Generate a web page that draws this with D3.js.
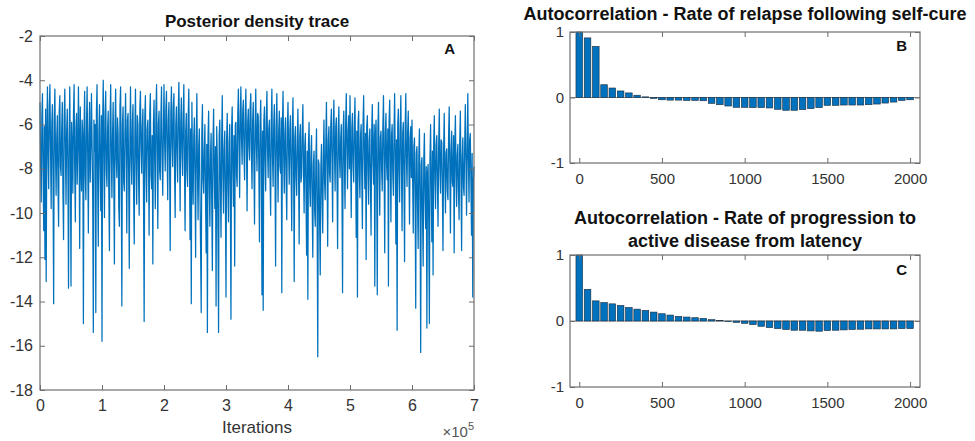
<!DOCTYPE html>
<html><head><meta charset="utf-8">
<script src="https://cdn.jsdelivr.net/npm/d3@7"></script>
<style>body{margin:0;background:#fff} text{font-family:"Liberation Sans",Arial,Helvetica,sans-serif}</style>
</head><body><svg id="c" width="975" height="441"></svg>
<script>
// ---------- DATA ----------
// Posterior density trace, one value every 1000 iterations
const traceStep = 1000;
const traceValues = [
// 0 - 1e5
-5.0,-7.8,-9.5,-5.6,-4.6,-8.2,-10.8,-6.1,-12.1,-5.3,
-13.1,-6.4,-4.3,-7.5,-8.9,-5.2,-4.2,-7.1,-9.8,-6.0,
-5.1,-8.4,-14.1,-5.8,-4.4,-7.3,-9.2,-6.6,-5.6,-8.8,
-10.6,-5.4,-4.7,-7.9,-8.3,-6.2,-5.0,-9.1,-11.2,-5.7,
-4.4,-7.0,-9.6,-6.3,-5.3,-8.1,-13.4,-6.8,-4.3,-7.4,
-13.3,-5.9,-6.9,-9.1,-5.5,-4.2,-8.0,-10.4,-6.1,-5.5,
-8.7,-7.2,-4.3,-6.7,-11.6,-5.2,-7.7,-9.0,-5.8,-6.5,
-15.0,-6.2,-4.5,-8.3,-9.4,-5.9,-4.3,-7.6,-10.9,-6.4,
-5.0,-8.6,-7.0,-4.6,-6.8,-9.3,-15.4,-5.8,-7.2,-6.0,
-14.5,-5.4,-4.2,-8.5,-11.5,-6.3,-5.1,-7.9,-9.9,-5.6,
// 1e5 - 2e5
-15.8,-6.0,-4.0,-7.4,-10.2,-5.5,-4.5,-8.1,-8.8,-6.2,
-5.4,-9.0,-11.7,-5.9,-4.2,-7.3,-9.3,-6.5,-5.0,-8.4,
-12.3,-6.1,-4.4,-7.6,-8.4,-5.7,-6.4,-9.7,-10.6,-5.2,
-4.3,-7.8,-14.2,-6.0,-5.2,-8.6,-9.0,-6.3,-4.6,-7.1,
-10.9,-5.8,-5.5,-8.2,-12.5,-6.6,-4.3,-7.5,-8.7,-5.9,
-5.1,-9.2,-11.4,-6.4,-4.4,-7.7,-9.6,-5.6,-6.0,-8.5,
-10.1,-5.3,-4.5,-7.0,-8.2,-6.1,-5.3,-9.4,-14.9,-5.7,
-4.7,-8.0,-9.5,-6.2,-5.8,-7.4,-11.0,-5.5,-4.6,-8.3,
-8.9,-6.5,-12.3,-5.9,-4.9,-7.6,-9.8,-5.4,-4.2,-7.2,
-10.7,-6.0,-5.4,-8.1,-8.5,-5.6,-4.3,-7.7,-9.2,-6.3,
// 2e5 - 3e5
-4.2,-6.8,-8.1,-5.3,-4.5,-7.2,-9.4,-5.8,-5.0,-7.6,
-11.7,-5.5,-4.3,-6.9,-7.9,-5.2,-4.6,-8.0,-10.2,-6.0,
-5.2,-7.4,-8.6,-5.4,-4.1,-6.7,-9.9,-5.9,-4.8,-7.3,
-8.3,-5.6,-4.2,-7.8,-10.8,-6.3,-5.5,-8.1,-8.8,-5.7,
-4.4,-7.5,-11.2,-6.2,-14.1,-5.0,-7.9,-9.6,-6.6,-5.7,
-8.4,-12.0,-6.8,-4.6,-8.2,-10.3,-7.0,-6.2,-9.0,-11.5,
-14.5,-6.4,-5.1,-8.5,-9.1,-7.2,-6.0,-9.4,-11.8,-6.9,
-15.4,-6.6,-5.4,-8.7,-10.6,-7.4,-6.4,-9.5,-12.6,-6.8,
-5.3,-8.1,-9.8,-7.0,-14.2,-6.1,-7.6,-10.9,-15.4,-6.5,
-5.8,-8.8,-11.1,-6.7,-4.7,-8.4,-10.0,-7.1,-6.3,-9.2,
// 3e5 - 4e5
-13.8,-6.7,-5.5,-8.9,-10.4,-6.8,-6.0,-9.3,-14.8,-6.2,
-5.2,-8.0,-9.7,-6.5,-12.4,-6.0,-5.9,-8.3,-8.8,-5.5,
-4.4,-6.9,-9.3,-5.6,-4.3,-6.6,-7.8,-5.4,-4.9,-7.3,
-8.5,-5.7,-4.4,-6.8,-9.9,-5.9,-5.3,-7.0,-7.6,-5.2,
-4.6,-7.2,-8.9,-5.8,-5.0,-7.7,-10.5,-6.1,-4.4,-6.9,
-8.1,-5.5,-5.6,-8.0,-11.3,-6.0,-4.9,-7.4,-13.7,-6.3,
-14.4,-5.9,-5.2,-7.6,-9.0,-5.8,-4.5,-7.1,-8.4,-6.2,
-5.8,-8.3,-10.1,-5.9,-4.4,-7.5,-8.8,-6.0,-5.1,-7.8,
-12.4,-6.1,-4.6,-7.4,-9.5,-6.3,-5.4,-7.9,-8.2,-5.7,
-13.6,-6.0,-4.5,-7.3,-9.1,-6.4,-5.7,-8.6,-10.3,-6.1,
// 4e5 - 5e5
-5.0,-7.3,-8.7,-6.2,-5.6,-8.1,-10.8,-6.4,-4.8,-7.6,
-13.1,-6.6,-6.1,-8.4,-9.2,-6.8,-5.3,-8.0,-11.4,-6.5,
-6.0,-8.6,-8.3,-6.3,-5.1,-7.9,-10.0,-7.0,-6.4,-9.1,
-11.9,-7.2,-13.9,-6.9,-5.9,-8.8,-9.7,-7.3,-6.5,-9.6,
-12.0,-7.8,-7.2,-9.9,-10.6,-7.5,-6.2,-10.2,-16.5,-7.6,
-7.8,-10.4,-12.8,-8.0,-6.9,-9.3,-10.9,-7.4,-5.8,-8.6,
-9.4,-6.8,-5.0,-7.9,-11.5,-6.7,-6.1,-8.2,-8.6,-6.0,
-5.3,-7.7,-10.4,-6.3,-4.9,-7.2,-9.0,-6.1,-5.7,-8.3,
-11.6,-6.4,-5.2,-7.5,-8.4,-6.6,-6.0,-8.9,-13.6,-6.2,
-5.4,-7.8,-9.8,-6.0,-4.6,-7.1,-8.9,-6.3,-5.6,-8.0,
// 5e5 - 6e5
-4.7,-7.4,-10.2,-6.1,-5.5,-7.8,-8.6,-6.2,-4.8,-7.5,
-11.1,-6.3,-13.8,-5.9,-5.4,-8.2,-9.3,-6.5,-6.0,-8.4,
-10.7,-6.0,-4.7,-7.3,-8.9,-6.4,-12.1,-6.1,-5.6,-8.1,
-9.6,-6.7,-6.2,-8.7,-11.0,-6.3,-5.1,-7.6,-8.7,-6.0,
-13.3,-6.5,-5.8,-8.3,-13.7,-6.2,-5.0,-7.9,-10.1,-6.6,
-6.3,-8.0,-9.0,-6.1,-4.7,-7.7,-11.8,-6.4,-5.5,-7.8,
-8.5,-6.2,-13.3,-5.9,-4.9,-7.4,-10.4,-6.5,-6.0,-8.2,
-9.2,-6.3,-4.6,-7.6,-11.4,-6.7,-15.3,-6.0,-5.3,-8.1,
-9.5,-6.2,-4.7,-7.8,-10.8,-6.4,-5.9,-8.3,-12.2,-6.1,
-4.6,-7.5,-8.8,-6.3,-5.4,-7.9,-10.5,-6.6,-6.1,-8.4,
// 6e5 - 7e5
-5.8,-8.4,-10.9,-7.0,-6.6,-9.2,-14.3,-7.3,-7.0,-9.8,
-11.6,-7.4,-6.2,-9.5,-16.3,-7.8,-7.5,-10.1,-12.4,-7.6,
-6.4,-9.3,-10.7,-7.9,-15.2,-8.2,-7.8,-10.4,-15.0,-7.5,
-6.0,-8.9,-11.3,-7.2,-12.8,-6.8,-5.6,-8.5,-9.8,-6.9,
-6.5,-8.7,-10.6,-7.0,-5.3,-8.0,-9.1,-6.7,-6.8,-8.9,
-11.7,-7.1,-5.5,-8.2,-10.0,-7.3,-7.1,-9.0,-9.4,-6.6,
-5.2,-7.9,-10.9,-7.2,-6.3,-8.6,-8.8,-6.5,-11.8,-7.0,
-5.6,-8.1,-9.7,-7.4,-6.9,-9.1,-10.3,-6.8,-5.4,-8.3,
-11.7,-7.5,-6.6,-8.8,-9.2,-6.9,-5.1,-7.7,-10.1,-7.2,
-4.6,-7.6,-9.5,-6.7,-6.4,-8.5,-11.0,-7.3,-13.8,-8.6,
-7.9
];
const xTicksA = [0,1,2,3,4,5,6,7];          // x 10^5
const yTicksA = [-18,-16,-14,-12,-10,-8,-6,-4,-2];

const lags = [0,50,100,150,200,250,300,350,400,450,500,550,600,650,700,750,800,850,900,950,1000,
  1050,1100,1150,1200,1250,1300,1350,1400,1450,1500,1550,1600,1650,1700,1750,1800,1850,1900,1950,2000];
const acfB = [1.0,0.91,0.78,0.195,0.145,0.10,0.07,0.035,0.01,-0.015,-0.035,-0.04,-0.04,-0.045,-0.045,-0.05,
  -0.09,-0.11,-0.13,-0.15,-0.15,-0.155,-0.155,-0.16,-0.18,-0.195,-0.195,-0.185,-0.17,-0.155,-0.12,-0.12,
  -0.115,-0.115,-0.115,-0.11,-0.10,-0.085,-0.07,-0.045,-0.035];
const acfC = [1.0,0.48,0.305,0.28,0.26,0.235,0.205,0.18,0.16,0.135,0.11,0.09,0.07,0.06,0.05,0.04,0.02,0.005,
  -0.008,-0.02,-0.035,-0.055,-0.08,-0.10,-0.115,-0.13,-0.14,-0.14,-0.15,-0.155,-0.145,-0.14,-0.135,-0.13,
  -0.125,-0.12,-0.12,-0.12,-0.12,-0.115,-0.115];
const xTicksBC = [0,500,1000,1500,2000];
const yTicksBC = [-1,0,1];

// ---------- DRAW ----------
const svg = d3.select("#c");
const AX = "#6e6e6e", TXT = "#333", BLUE = "#0072BD";

function frame(g, x0, y0, x1, y1) {
  g.append("rect").attr("x", x0).attr("y", y0).attr("width", x1 - x0).attr("height", y1 - y0)
    .attr("fill", "none").attr("stroke", AX).attr("stroke-width", 1.2);
}
function styleAxis(sel, fs) {
  sel.select(".domain").remove();
  sel.selectAll(".tick line").attr("stroke", AX).attr("stroke-width", 1);
  sel.selectAll(".tick text").attr("fill", TXT).attr("font-size", fs)
     .attr("font-family", '"Liberation Sans",Arial,sans-serif');
}

// Panel A
{
  const L = 40, R = 474, T = 36, B = 390;
  const x = d3.scaleLinear().domain([0, 700000]).range([L, R]);
  const y = d3.scaleLinear().domain([-18, -2]).range([B, T]);
  const g = svg.append("g");
  const line = d3.line().x((d, i) => x(i * traceStep)).y(d => y(d));
  g.append("path").datum(traceValues).attr("d", line).attr("fill", "none")
    .attr("stroke", BLUE).attr("stroke-width", 1.25).attr("stroke-linejoin", "round");
  frame(g, L, T, R, B);
  const ax = g.append("g").attr("transform", `translate(0,${B})`)
    .call(d3.axisBottom(x).tickValues(xTicksA.map(v => v * 1e5)).tickFormat(d => String(d / 1e5)).tickSize(-5).tickPadding(10));
  styleAxis(ax, 16);
  const axT = g.append("g").attr("transform", `translate(0,${T})`)
    .call(d3.axisTop(x).tickValues(xTicksA.map(v => v * 1e5)).tickFormat("").tickSize(-5));
  styleAxis(axT, 16);
  const ay = g.append("g").attr("transform", `translate(${L},0)`)
    .call(d3.axisLeft(y).tickValues(yTicksA).tickFormat(d => String(d)).tickSize(-5).tickPadding(7));
  styleAxis(ay, 16);
  const ayR = g.append("g").attr("transform", `translate(${R},0)`)
    .call(d3.axisRight(y).tickValues(yTicksA).tickFormat("").tickSize(-5));
  styleAxis(ayR, 16);
  g.append("text").attr("x", (L + R) / 2).attr("y", 27).attr("text-anchor", "middle")
    .attr("font-size", 17).attr("font-weight", "bold").attr("fill", "#111").text("Posterior density trace");
  g.append("text").attr("x", 455).attr("y", 54).attr("text-anchor", "end")
    .attr("font-size", 15).attr("font-weight", "bold").attr("fill", "#111").text("A");
  g.append("text").attr("x", (L + R) / 2).attr("y", 433).attr("text-anchor", "middle")
    .attr("font-size", 17).attr("fill", TXT).text("Iterations");
  const ex = g.append("text").attr("x", 474).attr("y", 437).attr("text-anchor", "end").attr("fill", "#555").attr("font-size", 15);
  ex.append("tspan").text("\u00d710");
  ex.append("tspan").attr("dy", -7).attr("font-size", 11).text("5");
}

// ACF panels
function acfPanel(T, B, vals, titleLines, titleY, letter, letterY) {
  const L = 570, R = 920;
  const x = d3.scaleLinear().domain([-56, 2060]).range([L, R]);
  const y = d3.scaleLinear().domain([-1, 1]).range([B, T]);
  const g = svg.append("g");
  const bw = x(40) - x(0);
  g.append("line").attr("x1", L).attr("x2", R).attr("y1", y(0)).attr("y2", y(0))
    .attr("stroke", "#8a8a8a").attr("stroke-width", 1);
  g.selectAll("rect.bar").data(lags).join("rect").attr("class", "bar")
    .attr("x", d => x(d) - bw / 2).attr("width", bw)
    .attr("y", (d, i) => Math.min(y(vals[i]), y(0)))
    .attr("height", (d, i) => Math.abs(y(vals[i]) - y(0)))
    .attr("fill", BLUE).attr("stroke", "#1b2a3a").attr("stroke-width", 0.6);
  frame(g, L, T, R, B);
  const ax = g.append("g").attr("transform", `translate(0,${B})`)
    .call(d3.axisBottom(x).tickValues(xTicksBC).tickFormat(d => String(d)).tickSize(-5).tickPadding(10));
  styleAxis(ax, 15);
  const axT = g.append("g").attr("transform", `translate(0,${T})`)
    .call(d3.axisTop(x).tickValues(xTicksBC).tickFormat("").tickSize(-5));
  styleAxis(axT, 15);
  const ay = g.append("g").attr("transform", `translate(${L},0)`)
    .call(d3.axisLeft(y).tickValues(yTicksBC).tickFormat(d => String(d)).tickSize(-5).tickPadding(6));
  styleAxis(ay, 15);
  const ayR = g.append("g").attr("transform", `translate(${R},0)`)
    .call(d3.axisRight(y).tickValues(yTicksBC).tickFormat("").tickSize(-5));
  styleAxis(ayR, 15);
  titleLines.forEach((t, i) => {
    g.append("text").attr("x", (L + R) / 2).attr("y", titleY + i * 23).attr("text-anchor", "middle")
      .attr("font-size", 18).attr("font-weight", "bold").attr("fill", "#111").text(t);
  });
  g.append("text").attr("x", 907).attr("y", letterY).attr("text-anchor", "end")
    .attr("font-size", 15).attr("font-weight", "bold").attr("fill", "#111").text(letter);
}
acfPanel(32, 163, acfB, ["Autocorrelation - Rate of relapse following self-cure"], 20, "B", 51);
acfPanel(255, 387, acfC, ["Autocorrelation - Rate of progression to", "active disease from latency"], 224, "C", 275);
</script></body></html>
